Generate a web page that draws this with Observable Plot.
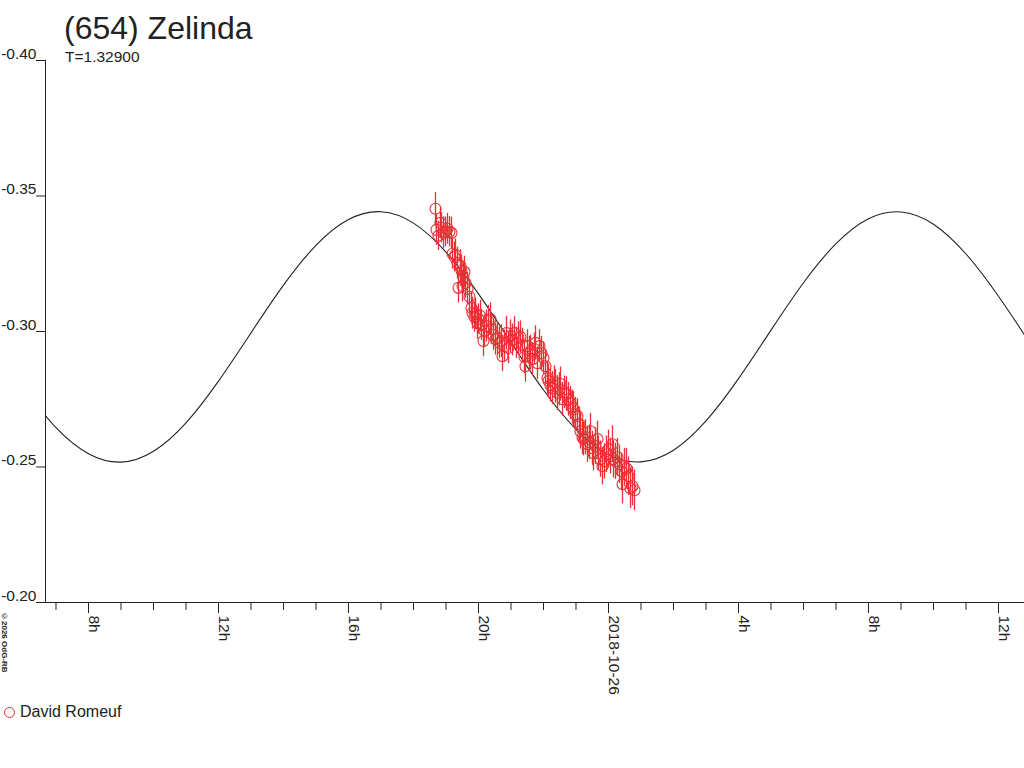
<!DOCTYPE html>
<html>
<head>
<meta charset="utf-8">
<script src="https://cdn.jsdelivr.net/npm/d3@7"></script>
<script src="https://cdn.jsdelivr.net/npm/@observablehq/plot@0.6"></script>
<style>
  html, body { margin: 0; padding: 0; background: #fff; }
  #wrap { position: relative; width: 1024px; height: 768px; overflow: hidden; font-family: "Liberation Sans", Arial, sans-serif; color: #222; }
  #chart { position: absolute; left: 0; top: 0; }
  .title { position: absolute; left: 64px; top: 9px; font-size: 32px; line-height: 38px; white-space: nowrap; }
  .subtitle { position: absolute; left: 65px; top: 48px; font-size: 15.5px; line-height: 18px; white-space: nowrap; }
  .legend { position: absolute; left: 4px; top: 702px; font-size: 16px; line-height: 20px; white-space: nowrap; display: flex; align-items: center; }
  .legend .sym { display: inline-block; width: 9px; height: 9px; border: 1.2px solid #ec3035; border-radius: 50%; margin-right: 5px; }
  .copy { position: absolute; left: 0px; top: 612px; font-size: 8px; font-weight: bold; writing-mode: vertical-rl; white-space: nowrap; color: #222; }
</style>
</head>
<body>
<div id="wrap">
  <div id="chart"></div>
  <div class="title">(654) Zelinda</div>
  <div class="subtitle">T=1.32900</div>
  <div class="legend"><span class="sym"></span>David Romeuf</div>
  <div class="copy">©2026 OdG-RB</div>
</div>
<script>
// Observation times (hours since 2018-10-25 00:00) and magnitudes (David Romeuf)
const times = [
  18.677,18.708,18.769,18.831,18.862,18.923,18.985,19.046,19.108,19.169,
  19.200,19.262,19.292,19.354,19.385,19.446,19.477,19.508,19.538,19.569,
  19.600,19.662,19.723,19.785,19.815,19.877,19.908,19.969,20.000,20.062,
  20.092,20.154,20.185,20.246,20.308,20.369,20.400,20.462,20.523,20.585,
  20.646,20.708,20.738,20.800,20.862,20.923,20.985,21.046,21.108,21.169,
  21.231,21.292,21.354,21.415,21.446,21.508,21.569,21.600,21.662,21.723,
  21.754,21.815,21.877,21.938,22.000,22.062,22.123,22.154,22.215,22.277,
  22.338,22.369,22.431,22.492,22.523,22.585,22.646,22.708,22.769,22.831,
  22.892,22.923,22.985,23.046,23.108,23.138,23.200,23.231,23.292,23.354,
  23.415,23.446,23.508,23.538,23.600,23.662,23.692,23.754,23.815,23.877,
  23.938,24.000,24.062,24.123,24.154,24.215,24.277,24.338,24.400,24.431,
  24.492,24.554,24.615,24.677,24.738,24.800
];
const mags = [
  -0.3453,-0.3375,-0.3353,-0.3401,-0.3383,-0.3364,-0.3368,-0.3379,-0.3368,-0.3364,
  -0.3287,-0.3275,-0.3283,-0.3253,-0.3161,-0.3242,-0.3224,-0.3168,-0.3198,-0.3220,
  -0.3179,-0.3157,-0.3128,-0.3087,-0.3068,-0.3054,-0.3065,-0.3031,-0.3046,-0.3057,
  -0.3024,-0.2965,-0.3002,-0.3020,-0.3039,-0.3046,-0.3009,-0.2987,-0.2972,-0.2976,
  -0.2958,-0.2965,-0.2909,-0.2946,-0.2994,-0.2939,-0.2983,-0.2969,-0.2994,-0.2958,
  -0.2976,-0.2980,-0.2950,-0.2906,-0.2872,-0.2946,-0.2920,-0.2928,-0.2898,-0.2935,
  -0.2958,-0.2883,-0.2946,-0.2920,-0.2902,-0.2872,-0.2828,-0.2817,-0.2802,-0.2791,
  -0.2813,-0.2798,-0.2773,-0.2787,-0.2806,-0.2750,-0.2776,-0.2769,-0.2750,-0.2736,
  -0.2721,-0.2713,-0.2695,-0.2688,-0.2658,-0.2632,-0.2610,-0.2603,-0.2610,-0.2584,
  -0.2591,-0.2632,-0.2569,-0.2551,-0.2577,-0.2603,-0.2551,-0.2529,-0.2503,-0.2521,
  -0.2547,-0.2566,-0.2540,-0.2584,-0.2529,-0.2521,-0.2536,-0.2510,-0.2484,-0.2436,
  -0.2499,-0.2495,-0.2466,-0.2421,-0.2429,-0.2414
];
const errs = [
  0.0060,0.0057,0.0054,0.0058,0.0056,0.0059,0.0055,0.0057,0.0056,0.0058,
  0.0057,0.0055,0.0059,0.0058,0.0056,0.0060,0.0057,0.0059,0.0056,0.0058,
  0.0057,0.0061,0.0058,0.0056,0.0059,0.0057,0.0058,0.0060,0.0056,0.0059,
  0.0057,0.0058,0.0061,0.0059,0.0057,0.0060,0.0058,0.0056,0.0059,0.0061,
  0.0058,0.0060,0.0057,0.0059,0.0062,0.0058,0.0060,0.0059,0.0061,0.0058,
  0.0060,0.0059,0.0062,0.0061,0.0059,0.0060,0.0062,0.0058,0.0061,0.0059,
  0.0063,0.0060,0.0061,0.0062,0.0059,0.0061,0.0060,0.0063,0.0062,0.0061,
  0.0060,0.0062,0.0064,0.0061,0.0063,0.0062,0.0060,0.0064,0.0062,0.0061,
  0.0063,0.0065,0.0062,0.0064,0.0063,0.0066,0.0064,0.0062,0.0065,0.0067,
  0.0064,0.0066,0.0063,0.0065,0.0068,0.0066,0.0064,0.0067,0.0069,0.0065,
  0.0067,0.0070,0.0066,0.0068,0.0070,0.0067,0.0069,0.0071,0.0068,0.0072,
  0.0070,0.0073,0.0071,0.0074,0.0072,0.0075
];

const curveHours = [6,7,8,9,10,11,12,13,14,15,16,17,18,19,20,21,22,23,24,25,26,27,28,29,30,31,32,33,34,35,36,37];
const curveMags = [
  -0.2793,-0.2645,-0.2549,-0.2518,-0.2558,-0.2663,-0.2817,-0.2995,-0.3171,-0.3318,
  -0.3413,-0.3442,-0.3400,-0.3293,-0.3139,-0.2960,-0.2784,-0.2639,-0.2545,-0.2519,
  -0.2562,-0.2670,-0.2826,-0.3005,-0.3180,-0.3324,-0.3416,-0.3441,-0.3396,-0.3286,
  -0.3130,-0.2951
];

// Axis ticks
const yTicks = [-0.40, -0.35, -0.30, -0.25, -0.20];
const majorHours = [8, 12, 16, 20, 24, 28, 32, 36];
const majorLabels = ["8h", "12h", "16h", "20h", "2018-10-26", "4h", "8h", "12h"];
const minorHours = [7,9,10,11,13,14,15,17,18,19,21,22,23,25,26,27,29,30,31,33,34,35];
const xDomain = [6.677, 36.8];
const yDomain = [-0.40, -0.20];

const obs = times.map((t, i) => ({t, m: mags[i], e: errs[i]}));
const curve = curveHours.map((t, i) => ({t, m: curveMags[i]}));
const majors = majorHours.map((h, i) => ({h, label: majorLabels[i]}));

const red = "#ec3035";
const ink = "#222";

const plot = Plot.plot({
  width: 1024,
  height: 768,
  marginTop: 60,
  marginBottom: 166,
  marginLeft: 45,
  marginRight: 0,
  style: {fontFamily: "'Liberation Sans', Arial, sans-serif", color: ink, background: "transparent"},
  x: {type: "linear", domain: xDomain},
  y: {type: "linear", domain: yDomain, reverse: true},
  marks: [
    Plot.axisX({ticks: minorHours, tickSize: 8, tickFormat: () => "", stroke: ink, label: null}),
    Plot.axisX({ticks: majorHours, tickSize: 11, tickFormat: () => "", stroke: ink, label: null}),
    Plot.axisY({ticks: yTicks, tickSize: 9, tickFormat: () => "", stroke: ink, label: null}),
    Plot.frame({anchor: "left", stroke: ink}),
    Plot.frame({anchor: "bottom", stroke: ink}),
    Plot.text(yTicks, {
      x: xDomain[0], y: d => d, text: d => d.toFixed(2),
      textAnchor: "end", lineAnchor: "bottom", dx: -9, dy: -2,
      fontSize: 15.5, fill: ink
    }),
    Plot.text(majors, {
      x: "h", frameAnchor: "bottom", text: "label",
      rotate: 90, textAnchor: "start", lineAnchor: "bottom",
      dx: 1, dy: 13, fontSize: 15.5, fill: ink
    }),
    Plot.line(curve, {x: "t", y: "m", curve: "natural", stroke: ink, strokeWidth: 1.1, clip: true}),
    Plot.ruleX(obs, {x: "t", y1: d => d.m - d.e, y2: d => d.m + d.e, stroke: red, strokeWidth: 1.3}),
    Plot.dot(obs, {x: "t", y: "m", r: 5.5, stroke: red, fill: "none", strokeWidth: 1.1})
  ]
});
document.getElementById("chart").appendChild(plot);
</script>
</body>
</html>
